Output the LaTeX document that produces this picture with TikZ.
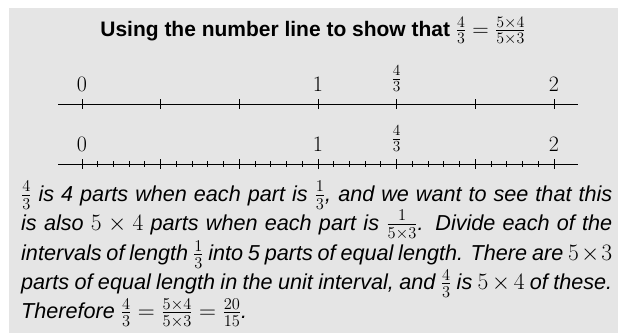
\RequirePackage{fix-cm}
\documentclass[tikz,border=0pt]{standalone}
\usepackage[no-math]{fontspec}
\newfontfamily\helv[Scale=0.92]{Liberation Sans}
\setlength{\lineskiplimit}{-20pt}
\usetikzlibrary{positioning}

\begin{document}
\begin{tikzpicture}[x=1pt,y=-1pt,
  axisline/.style={black, line width=0.9pt},
  numlabel/.style={anchor=south, inner sep=0pt, font=\fontsize{22}{26}\selectfont},
  titletext/.style={anchor=base, inner sep=0pt, font=\helv\bfseries\fontsize{22.8}{27}\selectfont},
  bodytext/.style={anchor=north west, inner sep=0pt, text width=591pt, align=justify,
    font=\helv\itshape\fontsize{23.5}{27.5}\selectfont}]
  \useasboundingbox (0,0) rectangle (618,333);
  \fill[white] (0,0) rectangle (618,333);
  \fill[black!10] (9,8) rectangle (618,333);
  % title
  \node[titletext] (title) at (313,36)
    {Using the number line to show that $\frac{4}{3}=\frac{5\times4}{5\times3}$};
  % the two number lines
  \foreach \ly/\tag in {104/a, 164/b}{
     \begin{scope}[shift={(0,\ly)}]
       \draw[axisline] (58,0) -- (578,0);
       \foreach \k in {0,...,6}{\draw[axisline] (82+78.667*\k,-5) -- (82+78.667*\k,5);}
       \node[numlabel] (zero\tag) at (82,-12) {$0$};
       \node[numlabel] (one\tag) at (318,-12) {$1$};
       \node[numlabel] (fourthirds\tag) at (396.67,-12) {$\frac{4}{3}$};
       \node[numlabel] (two\tag) at (554,-12) {$2$};
     \end{scope}}
  \foreach \k in {0,...,30}{\draw[axisline] (82+15.733*\k,161) -- (82+15.733*\k,167);}
  % explanation
  \node[bodytext] (explain) at (21,181)
    {$\frac{4}{3}$ is 4 parts when each part is $\frac{1}{3}$, and we want to see that this\linebreak
     is also $5\times4$ parts when each part is $\frac{1}{5\times3}$. Divide each of the\linebreak
     intervals of length $\frac{1}{3}$ into 5 parts of equal length. There are $5\times3$\linebreak
     parts of equal length in the unit interval, and $\frac{4}{3}$ is $5\times4$ of these.\linebreak
     Therefore $\frac{4}{3}=\frac{5\times4}{5\times3}=\frac{20}{15}$.};
\end{tikzpicture}
\end{document}
